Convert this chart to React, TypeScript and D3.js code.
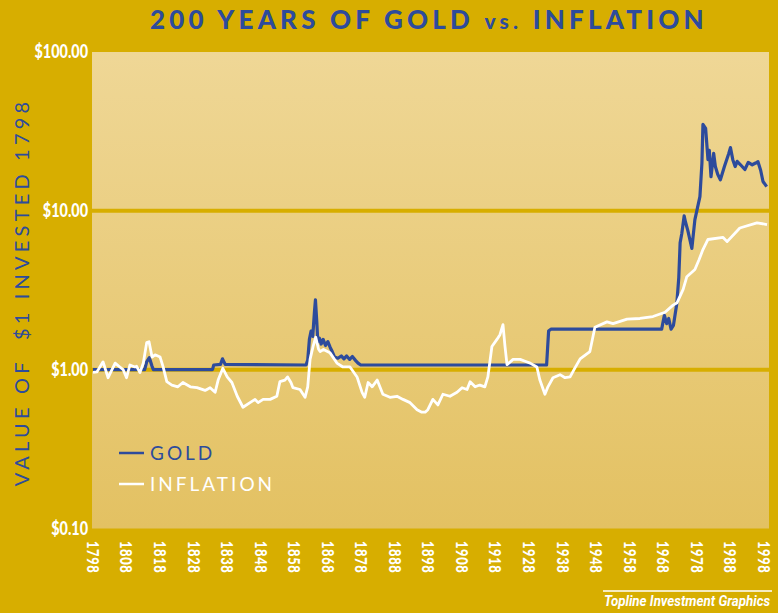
import React from "react";
import * as d3 from "d3";

// [year, value of $1 invested in 1798]
const goldSeries: [number, number][] = [
  [1798, 1.0], [1813.4, 1.0], [1814, 1.12], [1814.8, 1.19], [1815.6, 1.05], [1816, 1.0],
  [1833.6, 1.0], [1834, 1.07], [1836, 1.08], [1836.6, 1.17], [1837.4, 1.08], [1861.5, 1.07],
  [1862, 1.15], [1862.5, 1.55], [1863, 1.75], [1863.5, 1.62], [1864, 2.3], [1864.3, 2.75],
  [1864.7, 2.0], [1865, 1.5], [1865.5, 1.58], [1866, 1.45], [1866.6, 1.55], [1867.3, 1.42],
  [1868, 1.5], [1868.7, 1.38], [1869.3, 1.3], [1870, 1.2], [1871, 1.18], [1872, 1.22],
  [1872.8, 1.17], [1873.6, 1.22], [1874.5, 1.16], [1875.3, 1.21], [1876.3, 1.14], [1877, 1.1],
  [1877.8, 1.07], [1933.2, 1.07], [1933.8, 1.75], [1934.5, 1.8], [1967.5, 1.8], [1968.3, 2.2],
  [1969, 1.95], [1969.6, 2.1], [1970.3, 1.8], [1971, 1.9], [1972, 2.6], [1972.6, 3.8],
  [1973, 6.3], [1973.5, 7.2], [1974.2, 9.3], [1974.6, 8.5], [1975.3, 7.5], [1976.5, 5.8],
  [1977.4, 8.8], [1978.2, 10.5], [1978.9, 12.3], [1979.5, 20], [1979.8, 35], [1980.6, 33],
  [1981.3, 21], [1981.7, 24], [1982.2, 16.4], [1983, 23], [1983.5, 19], [1984.2, 17],
  [1985, 15.7], [1986.2, 19], [1987.5, 23], [1988, 25], [1988.7, 21], [1989.4, 19],
  [1990, 20.5], [1991, 19.5], [1992.3, 18.2], [1993.3, 20.2], [1994.5, 19.5], [1995.5, 20],
  [1996.2, 20.4], [1997, 18], [1997.7, 15.3], [1998.8, 14.2],
];

const inflationSeries: [number, number][] = [
  [1798, 0.96], [1799.2, 0.97], [1801, 1.12], [1802, 0.96], [1802.5, 0.89], [1804.6, 1.1],
  [1806, 1.04], [1807, 1.0], [1808, 0.89], [1809, 1.07], [1810.5, 1.04], [1811, 1.05],
  [1812, 0.96], [1813, 1.1], [1814, 1.48], [1814.7, 1.5], [1815.6, 1.2], [1816.5, 1.24],
  [1818, 1.2], [1818.9, 1.04], [1820, 0.84], [1821.5, 0.8], [1823.3, 0.78], [1824.8, 0.83],
  [1827, 0.78], [1829, 0.77], [1831.4, 0.74], [1832.9, 0.77], [1834.4, 0.72], [1835.3, 0.86],
  [1836.7, 1.02], [1838, 0.9], [1839.4, 0.83], [1841, 0.68], [1842.7, 0.58], [1844.8, 0.62],
  [1846.3, 0.65], [1847.2, 0.62], [1848.7, 0.65], [1850.8, 0.65], [1852.8, 0.68], [1853.7, 0.84],
  [1855.2, 0.86], [1856, 0.9], [1857, 0.83], [1857.6, 0.77], [1859.7, 0.75], [1861.2, 0.67],
  [1862, 0.78], [1862.7, 1.16], [1863.6, 1.4], [1864.4, 1.6], [1865.2, 1.35], [1865.7, 1.3],
  [1866.7, 1.34], [1868.6, 1.28], [1870.7, 1.1], [1872.5, 1.04], [1874.6, 1.04], [1876.7, 0.9],
  [1878.2, 0.72], [1879, 0.67], [1880, 0.83], [1881.2, 0.78], [1882.7, 0.86], [1884.4, 0.7],
  [1886.5, 0.67], [1888.6, 0.68], [1890.4, 0.65], [1892.5, 0.62], [1894.6, 0.56], [1896, 0.54],
  [1897, 0.54], [1897.8, 0.56], [1899.3, 0.65], [1900.8, 0.6], [1902.3, 0.7], [1904.4, 0.68],
  [1906.5, 0.72], [1908, 0.77], [1909.5, 0.75], [1910.4, 0.84], [1911.9, 0.78], [1913.3, 0.8],
  [1914.8, 0.78], [1915.7, 0.9], [1916.9, 1.4], [1918.4, 1.55], [1919.3, 1.66], [1920.2, 1.92],
  [1920.8, 1.4], [1921.4, 1.075], [1923.2, 1.16], [1925.3, 1.16], [1926.8, 1.13], [1928.3, 1.1],
  [1930.3, 1.04], [1931.2, 0.86], [1932.7, 0.7], [1933.6, 0.78], [1935.1, 0.89], [1937.2, 0.93],
  [1938.7, 0.89], [1940.2, 0.9], [1941.7, 1.03], [1943.2, 1.17], [1946.1, 1.3], [1947.6, 1.85],
  [1951.2, 2.0], [1953, 1.95], [1957.2, 2.08], [1961, 2.1], [1964.9, 2.16], [1968.5, 2.3],
  [1970.9, 2.55], [1972.1, 2.64], [1973.9, 3.2], [1975, 3.85], [1977.4, 4.27], [1978.6, 4.9],
  [1979.8, 5.7], [1981.3, 6.6], [1985.8, 6.8], [1987, 6.4], [1990.8, 7.8], [1995.9, 8.4],
  [1998.9, 8.2],
];

const yTicks = [0.1, 1, 10, 100];
const yTickLabels = ["$0.10", "$1.00", "$10.00", "$100.00"];
const gridValues = [1, 10];
const xTicks = d3.range(1798, 1999, 10);

const W = 778;
const H = 613;
const plot = { left: 92, right: 769, top: 52, bottom: 528.5 };

const BG = "#D7AE00";
const BLUE = "#2D4B9C";

export default function App() {
  const x = d3.scaleLinear().domain([1798, 1998]).range([93, 764]);
  const y = d3.scaleLog().domain([0.1, 100]).range([plot.bottom, plot.top]);

  const line = d3
    .line<[number, number]>()
    .x(d => x(d[0]))
    .y(d => y(d[1]));

  return (
    <svg
      width={W}
      height={H}
      style={{ position: "absolute", left: 0, top: 0, display: "block" }}
    >
      <defs>
        <linearGradient id="plotbg" x1="0" y1="0" x2="0" y2="1">
          <stop offset="0%" stopColor="#EFD796" />
          <stop offset="100%" stopColor="#E3C162" />
        </linearGradient>
        <clipPath id="plotclip">
          <rect
            x={plot.left}
            y={plot.top}
            width={plot.right - plot.left}
            height={plot.bottom - plot.top}
          />
        </clipPath>
      </defs>

      <rect width={W} height={H} fill={BG} />
      <rect
        x={plot.left}
        y={plot.top}
        width={plot.right - plot.left}
        height={plot.bottom - plot.top}
        fill="url(#plotbg)"
      />

      {gridValues.map(v => (
        <line
          key={v}
          x1={plot.left}
          x2={plot.right}
          y1={y(v)}
          y2={y(v)}
          stroke={BG}
          strokeWidth={4}
        />
      ))}

      <text
        x={429}
        y={29}
        textAnchor="middle"
        fill={BLUE}
        fontFamily="Lato, sans-serif"
        fontWeight={900}
        fontSize={26}
        letterSpacing={4.2}
      >
        200 YEARS OF GOLD <tspan fontSize={21}>vs.</tspan> INFLATION
      </text>

      {yTicks.map((v, i) => (
        <g key={v} transform={`translate(88,${y(v)}) scale(0.8,1)`}>
          <text
            dy="0.36em"
            textAnchor="end"
            fill="#fff"
            fontFamily="Lato, sans-serif"
            fontWeight={900}
            fontSize={18}
          >
            {yTickLabels[i]}
          </text>
        </g>
      ))}

      {xTicks.map(t => (
        <g key={t} transform={`translate(${x(t)},541) rotate(90) scale(0.76,1)`}>
          <text
            dy="0.36em"
            fill="#fff"
            fontFamily="Lato, sans-serif"
            fontWeight={900}
            fontSize={17}
            letterSpacing={0.8}
          >
            {t}
          </text>
        </g>
      ))}

      <text
        transform={`translate(29,292) rotate(-90)`}
        textAnchor="middle"
        fill={BLUE}
        fontFamily="Lato, sans-serif"
        fontSize={20}
        letterSpacing={4.2}
        style={{ whiteSpace: "pre" }}
      >
        {"VALUE OF  $1 INVESTED 1798"}
      </text>

      <g clipPath="url(#plotclip)">
        <path d={line(goldSeries) || ""} fill="none" stroke={BLUE} strokeWidth={3.2} strokeLinejoin="round" />
        <path d={line(inflationSeries) || ""} fill="none" stroke="#fff" strokeWidth={2.8} strokeLinejoin="round" />
      </g>

      <g fontFamily="Lato, sans-serif" fontSize={19} letterSpacing={3}>
        <line x1={119} x2={144} y1={453} y2={453} stroke={BLUE} strokeWidth={2.5} />
        <text x={150} y={460} fill={BLUE}>GOLD</text>
        <line x1={119} x2={144} y1={484} y2={484} stroke="#fff" strokeWidth={2.5} />
        <text x={150} y={491} fill="#fff">INFLATION</text>
      </g>

      <line x1={603} x2={772} y1={591} y2={591} stroke="#fff" strokeWidth={1.5} />
      <g transform="translate(604,606) scale(0.89,1)">
        <text
          fill="#fff"
          fontFamily="Roboto, sans-serif"
          fontWeight={700}
          fontStyle="italic"
          fontSize={15}
        >
          Topline Investment Graphics
        </text>
      </g>
    </svg>
  );
}
